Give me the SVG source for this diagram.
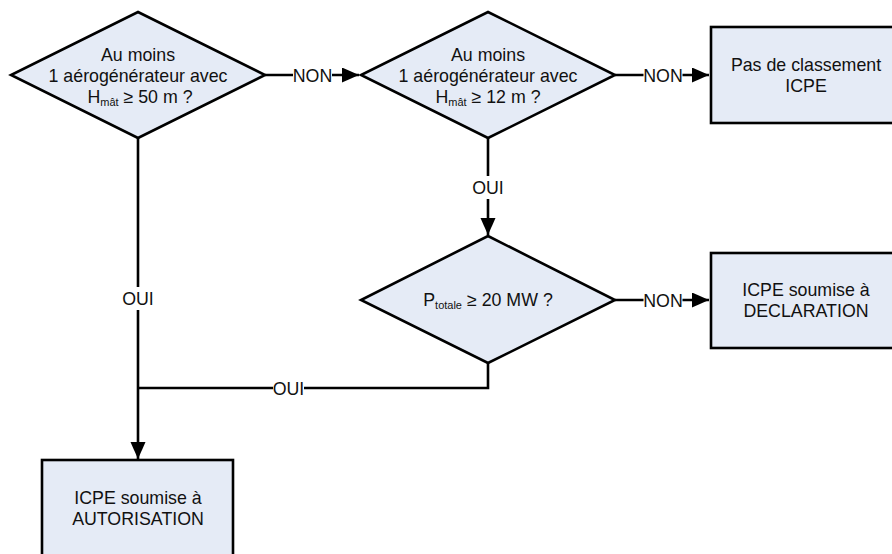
<svg xmlns="http://www.w3.org/2000/svg" width="892" height="554" viewBox="0 0 892 554">
<defs>
<marker id="arr" markerUnits="userSpaceOnUse" markerWidth="18" markerHeight="16" refX="17" refY="7.5" orient="auto">
<path d="M0,0 L17,7.5 L0,15 z" fill="#000"/>
</marker>
<style>
.shape{fill:#E5EBF6;stroke:#000;stroke-width:2.6}
.t{font-family:"Liberation Sans",Arial,sans-serif;font-size:17.8px;fill:#111;text-anchor:middle}
.sub{font-size:11px}
.ln{fill:none;stroke:#000;stroke-width:2.6}
.bg{fill:#fff}
</style>
</defs>
<rect width="892" height="554" fill="#fff"/>
<g id="connectors">
<path class="ln" d="M265,75 L359,75" marker-end="url(#arr)"/>
<path class="ln" d="M615,75 L709,75" marker-end="url(#arr)"/>
<path class="ln" d="M488,138 L488,235" marker-end="url(#arr)"/>
<path class="ln" d="M615,300 L709,300" marker-end="url(#arr)"/>
<path class="ln" d="M138,138 L138,459" marker-end="url(#arr)"/>
<path class="ln" d="M488,363 L488,388 L138,388"/>
<rect class="bg" x="293" y="66" width="39" height="18"/>
<text class="t" x="312.5" y="81.5">NON</text>
<rect class="bg" x="643.5" y="66" width="39" height="18"/>
<text class="t" x="663" y="81.5">NON</text>
<rect class="bg" x="643.5" y="291" width="39" height="18"/>
<text class="t" x="663" y="306.5">NON</text>
<rect class="bg" x="472" y="176" width="32" height="23"/>
<text class="t" x="488" y="193.5">OUI</text>
<rect class="bg" x="122" y="287" width="32" height="23"/>
<text class="t" x="138" y="304.5">OUI</text>
<rect class="bg" x="273" y="379" width="31" height="18"/>
<text class="t" x="288.5" y="394.5">OUI</text>
</g>
<g id="d1">
<polygon class="shape" points="138,12 265,75 138,138 11,75"/>
<text class="t" x="138" y="61">Au moins</text>
<text class="t" x="138" y="82">1 aérogénérateur avec</text>
<text class="t" x="140" y="103">H<tspan class="sub" dy="3">mât</tspan><tspan dy="-3"> ≥ 50 m ?</tspan></text>
</g>
<g id="d2">
<polygon class="shape" points="488,12 615,75 488,138 361,75"/>
<text class="t" x="488" y="61">Au moins</text>
<text class="t" x="488" y="82">1 aérogénérateur avec</text>
<text class="t" x="488" y="103">H<tspan class="sub" dy="3">mât</tspan><tspan dy="-3"> ≥ 12 m ?</tspan></text>
</g>
<g id="b1">
<rect class="shape" x="711" y="27" width="191" height="96"/>
<text class="t" x="806" y="71">Pas de classement</text>
<text class="t" x="806" y="92">ICPE</text>
</g>
<g id="d3">
<polygon class="shape" points="488,236 615,300 488,363 361,300"/>
<text class="t" x="488" y="306">P<tspan class="sub" dy="3">totale</tspan><tspan dy="-3"> ≥ 20 MW ?</tspan></text>
</g>
<g id="b2">
<rect class="shape" x="711" y="253" width="191" height="95"/>
<text class="t" x="806" y="296">ICPE soumise à</text>
<text class="t" x="806" y="317">DECLARATION</text>
</g>
<g id="b3">
<rect class="shape" x="42" y="460" width="191" height="96"/>
<text class="t" x="138" y="504">ICPE soumise à</text>
<text class="t" x="138" y="525">AUTORISATION</text>
</g>
</svg>
